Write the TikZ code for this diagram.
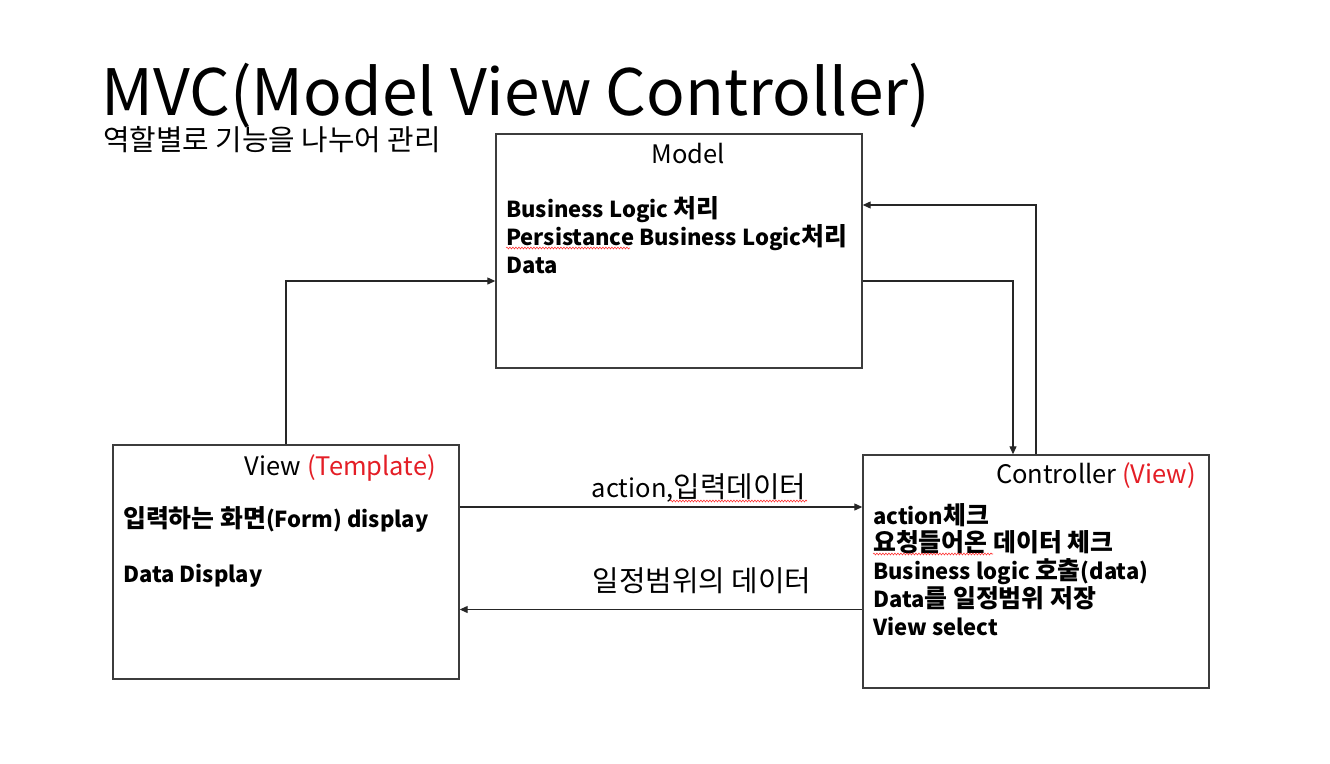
\documentclass[tikz,border=0pt]{standalone}
\usepackage{fontspec}
\setmainfont{Noto Sans CJK KR}
\newfontfamily\hgfont[Scale=1.13]{Noto Sans CJK KR}
\newcommand{\hg}[1]{{\hgfont #1}}
\usetikzlibrary{arrows.meta,decorations.pathmorphing}
\definecolor{redtxt}{RGB}{228,30,38}
\definecolor{boxline}{RGB}{60,60,60}
\begin{document}
\begin{tikzpicture}[x=1pt,y=-1pt,
  box/.style={draw=boxline,line width=1.4pt,rectangle,inner sep=0pt},
  arr/.style={draw=black!85,line width=1.2pt,-{Triangle[length=8pt,width=7pt]}},
  ttl/.style={font=\fontsize{25.5}{30}\selectfont,inner sep=0pt},
  body/.style={font=\fontsize{22}{28}\selectfont\bfseries,inner sep=0pt,anchor=base west},
  lbl/.style={font=\fontsize{25.5}{30}\selectfont,inner sep=0pt,anchor=base},
  squig/.style={draw=red!80,line width=0.6pt,decorate,decoration={snake,amplitude=0.9pt,segment length=3pt}}]
\useasboundingbox[fill=white] (0,0) rectangle (1330,763);
% title
\node[anchor=base west,inner sep=0pt,font=\fontsize{64}{70}\selectfont] (title) at (101,115) {MVC(Model View Controller)};
\node[anchor=base west,inner sep=0pt,font=\fontsize{25.5}{30}\selectfont] (sub) at (103,150) {\hg{역할별로 기능을 나누어 관리}};
% boxes
\node[box,minimum width=366pt,minimum height=234pt] (model) at (679,251) {};
\node[box,minimum width=346pt,minimum height=234pt] (view) at (286,562) {};
\node[box,minimum width=346pt,minimum height=233pt] (ctrl) at (1036,571.5) {};
% model text
\node[ttl,anchor=base] (mt) at (688,163) {Model};
\node[body] (mb1) at (506,217) {Business Logic \hg{처리}};
\node[body] (mb2) at (506,245) {Persistance Business Logic\hg{처리}};
\node[body] (mb3) at (506,273) {Data};
% view text
\node[ttl,anchor=base east] (vt) at (436,475) {View \textcolor{redtxt}{(Template)}};
\node[body] (vb1) at (123,527) {\hg{입력하는 화면}(Form) display};
\node[body] (vb2) at (123,582) {Data Display};
% controller text
\node[ttl,anchor=base east] (ct) at (1196,483) {Controller \textcolor{redtxt}{(View)}};
\node[body] (cb1) at (873,524) {action\hg{체크}};
\node[body] (cb2) at (873,551) {\hg{요청들어온 데이터 체크}};
\node[body] (cb3) at (873,579) {Business logic \hg{호출}(data)};
\node[body] (cb4) at (873,607) {Data\hg{를 일정범위 저장}};
\node[body] (cb5) at (873,635) {View select};
% connectors
\draw[arr] (view.north) |- ([yshift=-30pt]model.west);
\draw[arr] ([yshift=-30pt]model.east) -| ([xshift=-23pt]ctrl.north);
\draw[arr] (ctrl.north) |- ([yshift=46pt]model.east);
\coordinate (a1) at ([yshift=55pt]view.east);
\coordinate (a2) at ([yshift=-38pt]ctrl.west);
\draw[arr] (a1) -- (a1 -| ctrl.west);
\draw[arr] (a2) -- (a2 -| view.east);
\node[lbl] (l1) at (699,497) {action,\hg{입력데이터}};
\node[lbl] (l2) at (702,591) {\hg{일정범위의 데이터}};
% spell-check squiggles
\draw[squig] (506,248) -- (630,248);
\draw[squig] (670,501) -- (807,501);
\draw[squig] (873,554) -- (993,554);
\end{tikzpicture}
\end{document}
